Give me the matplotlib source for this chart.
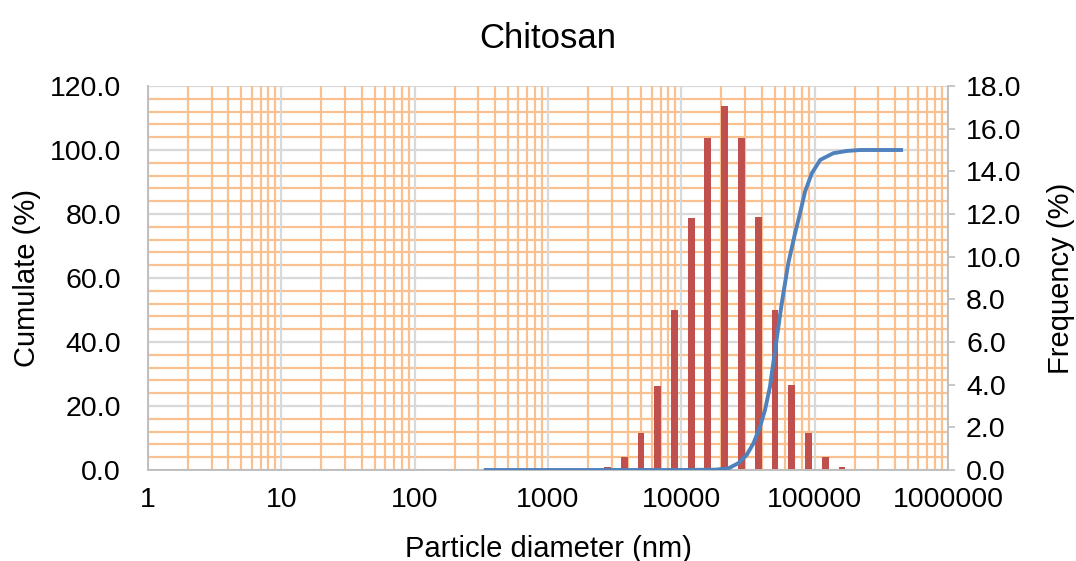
import numpy as np
import matplotlib.pyplot as plt
from matplotlib.ticker import FixedLocator, NullLocator

plt.rcParams['font.family'] = ['Liberation Sans', 'DejaVu Sans']

# frequency histogram (right axis)
bin_centers = [2790, 3730, 4990, 6650, 8850, 11900, 15800, 21100, 28200,
               37800, 50500, 67300, 89500, 120000, 160000, 214000]
frequency = [0.15, 0.61, 1.73, 3.95, 7.5, 11.83, 15.55, 17.05, 15.56,
             11.85, 7.5, 3.97, 1.73, 0.61, 0.15, 0.02]

# cumulative curve (left axis)
cum_x = [330, 1000, 10000, 17900, 22500, 26700, 30900, 34700, 38900, 42400,
         46200, 50500, 56600, 63400, 71300, 77600, 84700, 95100, 110000,
         138000, 174000, 219000, 460000]
cum_y = [0.0, 0.0, 0.0, 0.1, 0.5, 2.1, 4.7, 8.3, 13.5, 18.75,
         26.0, 37.5, 52.0, 64.6, 74.0, 80.2, 87.0, 92.7, 96.9,
         99.0, 99.7, 100.0, 100.0]

x_ticks = [1, 10, 100, 1000, 10000, 100000, 1000000]
left_ticks = [0, 20, 40, 60, 80, 100, 120]
right_ticks = [0, 2, 4, 6, 8, 10, 12, 14, 16, 18]

grey = '#D9D9D9'
orange = '#FAC090'

fig = plt.figure(figsize=(10.76, 5.61), dpi=100)
ax = fig.add_axes([148 / 1076, 1 - 470 / 561, 800 / 1076, 384 / 561])
axr = ax.twinx()
ax.set_zorder(2)
axr.set_zorder(1)
ax.patch.set_visible(False)

ax.set_xscale('log')
axr.set_xscale('log')
ax.set_xlim(1, 1e6)
ax.set_ylim(0, 120)
axr.set_ylim(0, 18)

# gridlines (drawn in the lower axes so the bars cover them)
ytr = ax.get_yaxis_transform()
minor_y = [v for v in range(4, 121, 4) if v % 20]
axr.hlines(minor_y, 0, 1, transform=ytr, colors=orange, lw=1.6, zorder=0)
axr.hlines(left_ticks, 0, 1, transform=ytr, colors=grey, lw=1.6, zorder=0.5)
for dec in x_ticks[:-1]:
    for m in range(2, 10):
        axr.axvline(dec * m, color=orange, lw=1.6, zorder=0.6)
for dec in x_ticks:
    axr.axvline(dec, color=grey, lw=1.6, zorder=0.4)

# bars, 0.05 decade wide
lc = np.log10(bin_centers)
lefts = 10 ** (lc - 0.025)
widths = 10 ** (lc + 0.025) - lefts
axr.bar(lefts, frequency, width=widths, align='edge', color='#C0504D', zorder=2)

ax.plot(cum_x, cum_y, color='#4F81BD', lw=2.8, solid_capstyle='butt',
        solid_joinstyle='round', zorder=3)

# ticks
ax.xaxis.set_major_locator(FixedLocator(x_ticks))
ax.xaxis.set_minor_locator(NullLocator())
ax.set_xticklabels([str(t) for t in x_ticks])
ax.set_yticks(left_ticks)
ax.set_yticklabels([f'{t:.1f}' for t in left_ticks])
axr.set_yticks(right_ticks)
axr.set_yticklabels([f'{t:.1f}' for t in right_ticks])
axr.xaxis.set_minor_locator(NullLocator())

ax.tick_params(axis='both', length=0, labelsize=20.5, pad=12)
ax.tick_params(axis='y', pad=19.5)
axr.tick_params(axis='y', length=5, width=1.2, color='#BFBFBF', labelsize=20.5, pad=8)

for a in (ax, axr):
    for s in a.spines.values():
        s.set_color('#BFBFBF')
        s.set_linewidth(1.2)
    a.spines['top'].set_visible(False)

ax.set_title('Chitosan', fontsize=25, pad=27)
ax.set_xlabel('Particle diameter (nm)', fontsize=21, labelpad=16)
ax.set_ylabel('Cumulate (%)', fontsize=21, labelpad=6)
axr.set_ylabel('Frequency (%)', fontsize=21, labelpad=18)

fig.savefig('out.png', dpi=100)
